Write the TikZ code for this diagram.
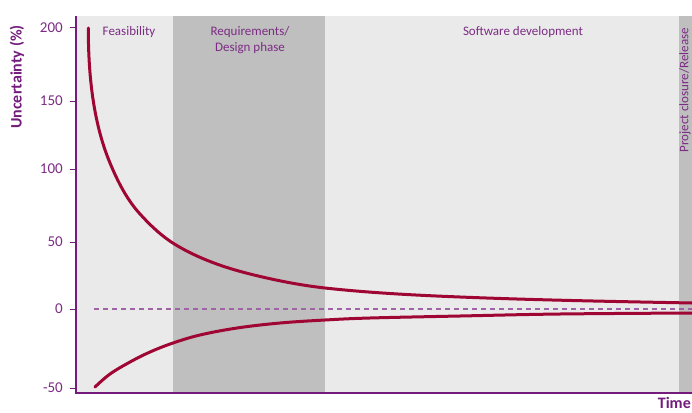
\documentclass[tikz,border=0pt]{standalone}
\usepackage{fontspec}
\setmainfont{Carlito}
\definecolor{lightband}{HTML}{EAEAEA}
\definecolor{darkband}{HTML}{BFBFBF}
\definecolor{axispurple}{HTML}{731C7C}
\definecolor{textpurple}{HTML}{7C2C84}
\definecolor{dashpurple}{HTML}{A064A4}
\definecolor{curvered}{HTML}{A00634}
\begin{document}
\begin{tikzpicture}[x=1pt,y=-1pt,
  ticklabel/.style={anchor=east,text=textpurple,font=\fontsize{15}{15}\selectfont,inner sep=0pt},
  phaselabel/.style={text=textpurple,font=\fontsize{13}{16}\selectfont,align=center,inner sep=0pt},
  axislabel/.style={text=axispurple,font=\bfseries\fontsize{16}{16}\selectfont,inner sep=0pt},
  curve/.style={draw=curvered,line width=3pt,line cap=round},
  tickmark/.style={draw=axispurple,line width=1pt}]
\useasboundingbox (0,0) rectangle (692,412);
\fill[white] (0,0) rectangle (692,412);
% bands
\fill[lightband] (76,16) rectangle (173,393);
\fill[darkband] (173,16) rectangle (325,393);
\fill[lightband] (325,16) rectangle (679,393);
\fill[darkband] (679,16) rectangle (692,393);
% zero dashed line
\draw[dashpurple,line width=1.4pt,dash pattern=on 5pt off 4pt] (94,309) -- (692,309);
% upper curve
\draw[curve] (88.3,28)
  .. controls (88.3,73) and (92.7,121.5) .. (110,163)
  .. controls (117.6,181.2) and (126.7,199.4) .. (140,214)
  .. controls (150.6,225.7) and (162.4,236.9) .. (176,245)
  .. controls (198.7,258.6) and (224.3,267.6) .. (250,274)
  .. controls (275,280.25) and (300,285.2) .. (325,288)
  .. controls (370,292.9) and (415,295.2) .. (460,297)
  .. controls (537.3,300.1) and (614.7,301.5) .. (692,303);
% lower curve
\draw[curve] plot[smooth,tension=0.6] coordinates {(95,387) (110,374) (130,362) (150,352) (173,343) (200,335) (237,328) (280,323) (325,320) (370,318) (460,316) (560,314) (692,313)};
% axes
\draw[axispurple,line width=1.5pt] (76,16) -- (76,393) -- (692,393);
% ticks
\foreach \v/\y in {200/28,150/101,100/169,50/242,0/309,-50/388}{
  \draw[tickmark] (70,\y) -- (76,\y);
  \node[ticklabel] (t\v) at (63,\y) {\v};
}
% labels
\node[axislabel,rotate=90] (ylab) at (17,77) {Uncertainty (\%)};
\node[axislabel,anchor=east] (xlab) at (691,403) {Time};
\node[phaselabel] (feas) at (129,32) {Feasibility};
\node[phaselabel] (req) at (250,40) {Requirements/\\Design phase};
\node[phaselabel] (soft) at (523,32) {Software development};
\node[phaselabel,rotate=90,anchor=east] (clos) at (685,28) {Project closure/Release};
\end{tikzpicture}
\end{document}
